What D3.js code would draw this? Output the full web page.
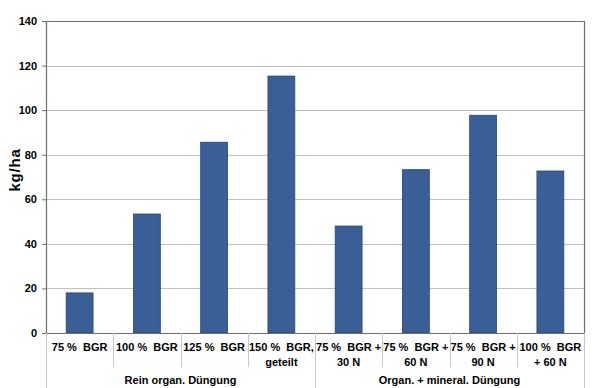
<!DOCTYPE html>
<html>
<head>
<meta charset="utf-8">
<script src="https://cdn.jsdelivr.net/npm/d3@7.9.0/dist/d3.min.js"></script>
<style>
  body { margin: 0; background: #fff; }
  svg text { font-family: Arial, "Liberation Sans", sans-serif; font-weight: bold; fill: #000; }
</style>
</head>
<body>
<svg id="chart" width="600" height="388"></svg>
<script>
// data
const categories = ["75 %  BGR", "100 %  BGR", "125 %  BGR", "150 %  BGR,\ngeteilt",
  "75 %  BGR +\n30 N", "75 %  BGR +\n60 N", "75 %  BGR +\n90 N", "100 %  BGR\n+ 60 N"];
const values = [18, 53.4, 85.6, 115.3, 48, 73.3, 97.7, 72.7];
const groups = ["Rein organ. Düngung", "Organ. + mineral. Düngung"];
const groupSizes = [4, 4];
const yTicks = [0, 20, 40, 60, 80, 100, 120, 140];

const margin = {left: 46, top: 21, right: 16, bottom: 55};
const width = 600, height = 388;
const svg = d3.select("#chart");

const x = d3.scaleBand()
  .domain(d3.range(categories.length))
  .range([margin.left, width - margin.right])
  .paddingInner(0.6).paddingOuter(0.3);
const y = d3.scaleLinear().domain([0, 140]).range([height - margin.bottom, margin.top]);

const x0 = margin.left, x1 = width - margin.right;
const y0 = y(0), yTop = y(140);

// gridlines
svg.append("g")
  .selectAll("line")
  .data(yTicks.filter(d => d > 0 && d < 140))
  .join("line")
  .attr("x1", x0).attr("x2", x1)
  .attr("y1", d => Math.round(y(d)) + 0.5).attr("y2", d => Math.round(y(d)) + 0.5)
  .attr("stroke", "#c0c0c0");

// plot frame top & right
svg.append("path")
  .attr("d", `M${x0},${Math.round(yTop) + 0.5}H${x1 + 0.5}V${y0}`)
  .attr("fill", "none").attr("stroke", "#6e6e6e").attr("stroke-width", 1.2);

// bars
svg.append("g")
  .selectAll("rect")
  .data(values)
  .join("rect")
  .attr("x", (d, i) => x(i))
  .attr("width", x.bandwidth())
  .attr("y", d => y(d))
  .attr("height", d => y0 - y(d))
  .attr("fill", "#3a5f96")
  .attr("stroke", "#27467a")
  .attr("stroke-width", 0.8);

// y axis
const yAxis = svg.append("g")
  .attr("transform", `translate(${x0},0)`)
  .call(d3.axisLeft(y).tickValues(yTicks).tickSize(4).tickPadding(5));
yAxis.select(".domain").attr("stroke", "#6e6e6e").attr("stroke-width", 1.2);
yAxis.selectAll(".tick line").attr("stroke", "#6e6e6e");
yAxis.selectAll("text").attr("font-size", 11).style("font-family", "Arial, 'Liberation Sans', sans-serif").style("font-weight", "bold");

// y label
svg.append("text")
  .attr("transform", "translate(20,170) rotate(-90)")
  .attr("text-anchor", "middle")
  .attr("font-size", 15)
  .attr("letter-spacing", 0.8)
  .text("kg/ha");

// x axis line
svg.append("line")
  .attr("x1", x0).attr("x2", x1 + 0.5)
  .attr("y1", Math.round(y0) + 0.5).attr("y2", Math.round(y0) + 0.5)
  .attr("stroke", "#6e6e6e").attr("stroke-width", 1.2);

// category separators
const step = (x1 - x0) / categories.length;
const groupEdges = [0];
groupSizes.forEach(s => groupEdges.push(groupEdges[groupEdges.length - 1] + s));
svg.append("g")
  .selectAll("line")
  .data(d3.range(categories.length + 1))
  .join("line")
  .attr("x1", i => Math.round(x0 + i * step) + 0.5)
  .attr("x2", i => Math.round(x0 + i * step) + 0.5)
  .attr("y1", y0)
  .attr("y2", i => groupEdges.includes(i) ? height : y0 + 34)
  .attr("stroke", "#c8c8c8");

// category labels
const catLabels = svg.append("g")
  .selectAll("text")
  .data(categories)
  .join("text")
  .attr("x", (d, i) => x(i) + x.bandwidth() / 2)
  .attr("y", 351)
  .attr("text-anchor", "middle")
  .attr("font-size", 11)
  .style("white-space", "pre");
catLabels.selectAll("tspan")
  .data(d => d.split("\n"))
  .join("tspan")
  .attr("x", function () { return this.parentNode.getAttribute("x"); })
  .attr("dy", (d, i) => i === 0 ? 0 : 14.5)
  .text(d => d);

// group labels
svg.append("g")
  .selectAll("text")
  .data(groups)
  .join("text")
  .attr("x", (d, i) => x0 + (groupEdges[i] + groupEdges[i + 1]) / 2 * step)
  .attr("y", 384)
  .attr("text-anchor", "middle")
  .attr("font-size", 11)
  .text(d => d);
</script>
</body>
</html>
